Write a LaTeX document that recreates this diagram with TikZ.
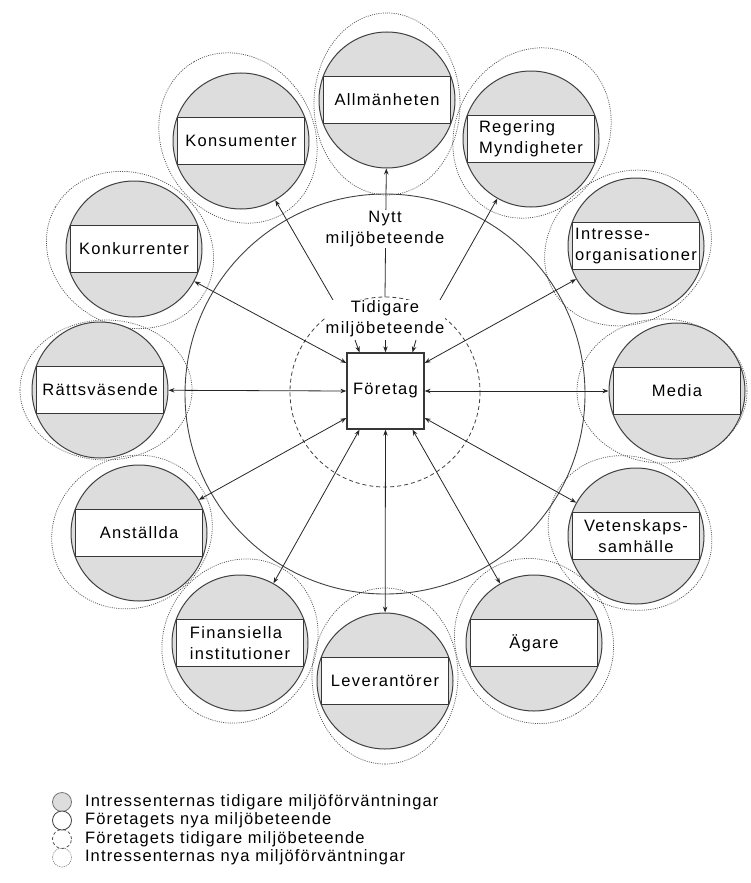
\documentclass[tikz,border=0pt]{standalone}
\usepackage{fontspec}
\usetikzlibrary{arrows.meta}
\newfontfamily\lblfont{Liberation Sans}[LetterSpace=8]
\newfontfamily\legfont{Liberation Sans}[LetterSpace=7]
\definecolor{discgray}{RGB}{221,221,221}
\definecolor{ringgray}{RGB}{64,64,64}
\definecolor{boxedge}{RGB}{55,55,55}
\definecolor{hazegray}{RGB}{85,85,85}
\tikzset{
  disc/.style={circle, minimum size=136pt, inner sep=0pt, draw=ringgray, fill=discgray, line width=1pt},
  labelbox/.style={draw=boxedge, fill=white, minimum width=127pt, minimum height=47pt, inner sep=0pt,
    line width=1pt, font=\lblfont\fontsize{16.5}{21}\selectfont},
  expect/.style={draw=hazegray, line width=0.75pt, dash pattern=on 1pt off 1.2pt},
  bigring/.style={draw=ringgray, line width=0.9pt},
  dashring/.style={draw=ringgray, line width=0.8pt, dash pattern=on 4pt off 3pt},
  firm/.style={draw=boxedge, fill=white, line width=1.3pt, minimum width=77pt, minimum height=76pt,
    inner sep=0pt, font=\lblfont\fontsize{16.5}{21}\selectfont},
  link/.style={draw=black!85, line width=0.8pt, >={Stealth[length=6pt,width=4.5pt]}},
  caption/.style={fill=white, inner sep=1pt, align=center, font=\lblfont\fontsize{16.5}{21}\selectfont},
  legdot/.style={circle, minimum size=19pt, inner sep=0pt},
  legtext/.style={anchor=west, inner sep=0pt, font=\legfont\fontsize{16.5}{18}\selectfont}
}
\begin{document}
\begin{tikzpicture}[x=1pt,y=-1pt]
\useasboundingbox (0,0) rectangle (750,883);

% expectation halos around the stakeholders
\foreach \cx/\cy/\rr/\rt/\ang in {
  387/104/91/73/90, 532/133/88/76/60, 628/248/86/75/30, 662/391/85/72/0,
  630/533/84/75/-30, 534/641/84/78/-60, 385/676/88/73/-90, 240/641/84/76/-120,
  132/532/82/75/-150, 106/390/86/70/180, 130/250/86/76/150, 238/138/88/76/120}
  \draw[expect, shift={(\cx,\cy)}, rotate=\ang] (0,0) ellipse [x radius=\rr, y radius=\rt];

% behaviour of the firm: new (solid) and earlier (dashed)
\draw[bigring] (385,394) circle [radius=200];
\draw[dashring] (385,392) circle [radius=95];

% stakeholders
\node[disc] (allm)  at (387,100) {};
\node[disc] (reg)   at (531,139) {};
\node[disc] (intr)  at (636,246) {};
\node[disc] (media) at (677,391) {};
\node[disc] (vet)   at (636,536) {};
\node[disc] (agare) at (534,643) {};
\node[disc] (lev)   at (385,681) {};
\node[disc] (fin)   at (240,643) {};
\node[disc] (anst)  at (139,533) {};
\node[disc] (ratt)  at (100,390) {};
\node[disc] (konk)  at (134,249) {};
\node[disc] (kons)  at (241,141) {};

\node[labelbox] at (allm)  {Allmänheten};
\node[labelbox, align=left] at (reg) {Regering\\Myndigheter};
\node[labelbox, align=left] at (intr) {Intresse-\\organisationer};
\node[labelbox] at (media) {Media};
\node[labelbox, align=center] at (vet) {Vetenskaps-\\samhälle};
\node[labelbox] at (agare) {Ägare};
\node[labelbox] at (lev)   {Leverantörer};
\node[labelbox, align=left] at (fin) {Finansiella\\institutioner};
\node[labelbox] at (anst)  {Anställda};
\node[labelbox] at (ratt)  {Rättsväsende};
\node[labelbox] at (konk)  {Konkurrenter};
\node[labelbox] at (kons)  {Konsumenter};

% the firm
\node[firm] (ftg) at (385.5,391) {Företag};

% two-way relations
\draw[link,<->] ([yshift=28pt]ftg.west) -- (konk);
\draw[link,<->] (ftg.west) -- (ratt);
\draw[link,<->] ([yshift=-27pt]ftg.west) -- (anst);
\draw[link,<->] ([yshift=28pt]ftg.east) -- (intr);
\draw[link,<->] (ftg.east) -- (media);
\draw[link,<->] ([yshift=-27pt]ftg.east) -- (vet);
\draw[link,<->] ([xshift=-26pt]ftg.south) -- (fin);
\draw[link,<->] (ftg.south) -- (lev);
\draw[link,<->] ([xshift=27pt]ftg.south) -- (agare);

% new behaviour reaching the public side
\coordinate (t1) at (333,300);
\coordinate (t2) at (385,297);
\coordinate (t3) at (440,300);
\draw[link,->] (t1) -- (kons);
\draw[link,->] (t2) -- (allm);
\draw[link,->] (t3) -- (reg);

\node[caption] (nytt) at (385,229) {Nytt\\miljöbeteende};
\node[caption] (tid) at (385,319) {Tidigare\\miljöbeteende};

% earlier behaviour feeding the firm
\coordinate (s1) at (355,340);
\coordinate (s2) at (385.5,340);
\coordinate (s3) at (416,340);
\draw[link,->] (s1) -- ([xshift=-26pt]ftg.north);
\draw[link,->] (s2) -- (ftg.north);
\draw[link,->] (s3) -- ([xshift=27pt]ftg.north);

% legend
\node[legdot, fill=discgray, draw=black!55, line width=0.8pt] (k1) at (62,802) {};
\node[legdot, fill=white, draw=ringgray, line width=0.8pt] (k2) at (62,820.5) {};
\node[legdot, draw=ringgray, line width=0.7pt, dash pattern=on 3pt off 2.5pt] (k3) at (62,839) {};
\node[legdot, draw=hazegray, line width=0.6pt, dash pattern=on 1pt off 1.2pt] (k4) at (62,857.5) {};
\node[legtext] at ([xshift=13pt]k1.east) {Intressenternas tidigare miljöförväntningar};
\node[legtext] at ([xshift=13pt]k2.east) {Företagets nya miljöbeteende};
\node[legtext] at ([xshift=13pt]k3.east) {Företagets tidigare miljöbeteende};
\node[legtext] at ([xshift=13pt]k4.east) {Intressenternas nya miljöförväntningar};
\end{tikzpicture}
\end{document}
